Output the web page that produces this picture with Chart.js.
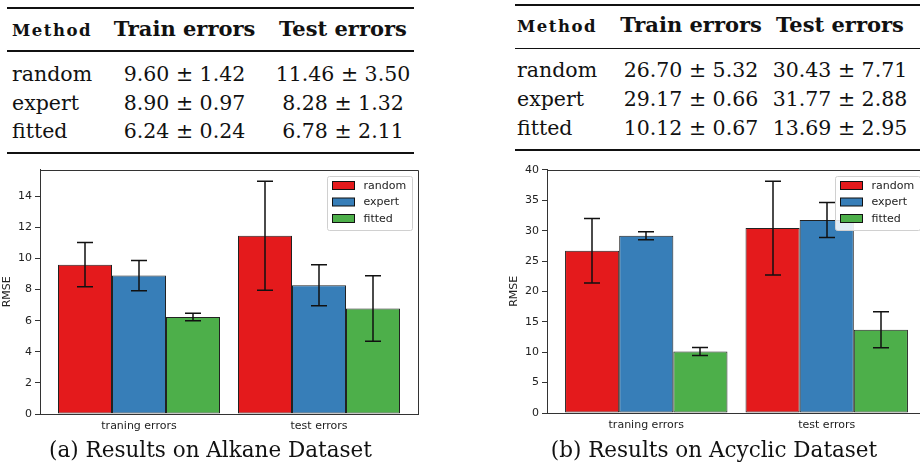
<!DOCTYPE html>
<html>
<head>
<meta charset="utf-8">
<script src="https://cdn.jsdelivr.net/npm/chart.js@4/dist/chart.umd.min.js"></script>
<style>
  html, body { margin: 0; padding: 0; background: #fff; }
  body { width: 920px; height: 462px; overflow: hidden; position: relative; font-family: "DejaVu Serif", serif; color: #111; }
  .rule { position: absolute; background: #111; }
  .cell { position: absolute; height: 30px; line-height: 30px; white-space: nowrap; }
  .c { transform: translateX(-50%); }
  .body { font-size: 20.5px; }
  .head { font-size: 21px; font-weight: bold; }
  .meth { font-size: 16.5px; font-weight: bold; letter-spacing: 1.5px; }
  .cap { position: absolute; height: 30px; line-height: 30px; font-size: 21.5px; white-space: nowrap; transform: translateX(-50%); }
  .box { position: absolute; }
</style>
</head>
<body>
<div class="box" style="left:0px;top:160px;width:460px;height:280px;"><canvas id="Chart1"></canvas></div>
<div class="box" style="left:490px;top:160px;width:460px;height:280px;"><canvas id="Chart2"></canvas></div>
<div class="cap" style="left:210.5px;top:434.5px;">(a) Results on Alkane Dataset</div>
<div class="cap" style="left:714px;top:434.5px;">(b) Results on Acyclic Dataset</div>

<script>
// data
var groupLabels = ['traning errors', 'test errors'];
var methods = ['random', 'expert', 'fitted'];
var colors = ['#e41a1c', '#377eb8', '#4daf4a'];

// alkane dataset, [train, test]
var alkaneRandom = [9.60, 11.46];
var alkaneRandomErr = [1.42, 3.50];
var alkaneExpert = [8.90, 8.28];
var alkaneExpertErr = [0.97, 1.32];
var alkaneFitted = [6.24, 6.78];
var alkaneFittedErr = [0.24, 2.11];

// acyclic dataset, [train, test]
var acyclicRandom = [26.70, 30.43];
var acyclicRandomErr = [5.32, 7.71];
var acyclicExpert = [29.17, 31.77];
var acyclicExpertErr = [0.66, 2.88];
var acyclicFitted = [10.12, 13.69];
var acyclicFittedErr = [0.67, 2.95];

var alkaneTicks = [0, 2, 4, 6, 8, 10, 12, 14];
var acyclicTicks = [0, 5, 10, 15, 20, 25, 30, 35, 40];


// tables
function rule(x0, x1, y, h) {
    var d = document.createElement('div');
    d.className = 'rule';
    d.style.left = x0 + 'px';
    d.style.width = (x1 - x0) + 'px';
    d.style.top = (y - h / 2) + 'px';
    d.style.height = h + 'px';
    document.body.appendChild(d);
}
function cell(text, cls, x, cy, centered) {
    var d = document.createElement('div');
    d.className = 'cell ' + cls + (centered ? ' c' : '');
    d.style.left = x + 'px';
    d.style.top = (cy - 15) + 'px';
    d.textContent = text;
    document.body.appendChild(d);
}
function pm(v, e) {
    return v.toFixed(2) + ' \u00b1 ' + e.toFixed(2);
}
function makeTable(t, vals, errs) {
    rule(t.x0, t.x1, t.top, 2);
    rule(t.x0, t.x1, t.mid, 1.2);
    rule(t.x0, t.x1, t.bottom, 2);
    cell('Method', 'meth', t.methodX, t.headBase - 0.346 * 16.5, false);
    cell('Train errors', 'head', t.trainC, t.headBase - 0.346 * 21, true);
    cell('Test errors', 'head', t.testC, t.headBase - 0.346 * 21, true);
    for (var i = 0; i < methods.length; i++) {
        var cy = t.rowBase[i] - 0.346 * 20.5;
        cell(methods[i], 'body', t.methodX, cy, false);
        cell(pm(vals[i][0], errs[i][0]), 'body', t.trainC, cy, true);
        cell(pm(vals[i][1], errs[i][1]), 'body', t.testC, cy, true);
    }
}

makeTable({x0: 7, x1: 414, top: 8, mid: 51, bottom: 153, headBase: 36.7, rowBase: [81, 110, 138],
           methodX: 12, trainC: 184.5, testC: 343},
          [alkaneRandom, alkaneExpert, alkaneFitted],
          [alkaneRandomErr, alkaneExpertErr, alkaneFittedErr]);
makeTable({x0: 515, x1: 930, top: 5, mid: 48.3, bottom: 150, headBase: 32.7, rowBase: [76.7, 106, 135],
           methodX: 517, trainC: 691, testC: 840},
          [acyclicRandom, acyclicExpert, acyclicFitted],
          [acyclicRandomErr, acyclicExpertErr, acyclicFittedErr]);


// plugins
var errorBars = {
    id: 'errorBars',
    afterDatasetsDraw: function(chart) {
        var ctx = chart.ctx;
        var yScale = chart.scales.y;
        ctx.save();
        ctx.strokeStyle = '#111';
        ctx.lineWidth = 1.5;
        chart.data.datasets.forEach(function(ds, i) {
            chart.getDatasetMeta(i).data.forEach(function(bar, j) {
                var v = ds.data[j].y, e = ds.errors[j];
                var y1 = yScale.getPixelForValue(v + e);
                var y2 = yScale.getPixelForValue(v - e);
                var x = Math.round(bar.x);
                ctx.beginPath();
                ctx.moveTo(x, y1); ctx.lineTo(x, y2);
                ctx.moveTo(x - 8, y1); ctx.lineTo(x + 8, y1);
                ctx.moveTo(x - 8, y2); ctx.lineTo(x + 8, y2);
                ctx.stroke();
            });
        });
        ctx.restore();
    }
};

var frameAndLegend = {
    id: 'frameAndLegend',
    afterDraw: function(chart) {
        var ctx = chart.ctx, a = chart.chartArea;
        ctx.save();
        // top and right spines
        ctx.strokeStyle = '#333';
        ctx.lineWidth = 1;
        ctx.beginPath();
        ctx.moveTo(Math.round(a.left) + 0.5, Math.round(a.top) + 0.5);
        ctx.lineTo(Math.round(a.right) + 0.5, Math.round(a.top) + 0.5);
        ctx.lineTo(Math.round(a.right) + 0.5, Math.round(a.bottom) + 0.5);
        ctx.stroke();

        // legend box in upper right
        var bw = 85, bh = 54;
        var bx = Math.round(a.right - 6 - bw) + 0.5, by = Math.round(a.top + 6) + 0.5;
        ctx.fillStyle = 'rgba(255,255,255,0.85)';
        ctx.strokeStyle = '#d0d0d0';
        ctx.beginPath();
        ctx.roundRect(bx, by, bw, bh, 2);
        ctx.fill();
        ctx.stroke();

        ctx.font = '11px "DejaVu Sans"';
        ctx.textBaseline = 'middle';
        chart.data.datasets.forEach(function(ds, i) {
            var cy = by + 9 + i * 16.5;
            ctx.fillStyle = ds.backgroundColor;
            ctx.strokeStyle = '#111';
            ctx.fillRect(bx + 5, cy - 4, 22, 8);
            ctx.strokeRect(bx + 5, cy - 4, 22, 8);
            ctx.fillStyle = '#222';
            ctx.fillText(ds.label, bx + 36, cy + 0.5);
        });
        ctx.restore();
    }
};


function makeChart(id, vals, errs, yMax, yTicks, opt) {
    var datasets = methods.map(function(m, i) {
        return {
            label: m,
            data: vals[i].map(function(v, j) { return {x: j, y: v}; }),
            errors: errs[i],
            backgroundColor: colors[i],
            borderColor: '#222',
            borderWidth: 1,
            borderSkipped: false,
            categoryPercentage: 0.9,
            barPercentage: 1.0
        };
    });

    return new Chart(document.getElementById(id).getContext('2d'), {
        type: 'bar',
        data: { datasets: datasets },
        plugins: [errorBars, frameAndLegend],
        options: {
            responsive: true,
            maintainAspectRatio: false,
            animation: false,
            events: [],
            layout: { padding: { left: 0, top: 8, right: opt.padRight, bottom: 0 } },
            plugins: {
                legend: { display: false },
                tooltip: { enabled: false }
            },
            scales: {
                x: {
                    type: 'linear',
                    min: -0.55,
                    max: 1.55,
                    offset: false,
                    afterBuildTicks: function(axis) {
                        axis.ticks = groupLabels.map(function(l, i) { return {value: i}; });
                    },
                    afterFit: function(axis) { axis.height = opt.xHeight; },
                    grid: { display: false, drawTicks: false },
                    border: { display: true, color: '#333', width: 1 },
                    ticks: {
                        padding: 6,
                        maxRotation: 0,
                        color: '#222',
                        font: { family: 'DejaVu Sans', size: 11 },
                        callback: function(v) { return groupLabels[v]; }
                    }
                },
                y: {
                    min: 0,
                    max: yMax,
                    afterBuildTicks: function(axis) {
                        axis.ticks = yTicks.map(function(v) { return {value: v}; });
                    },
                    afterFit: function(axis) { axis.width = opt.yWidth; },
                    grid: { drawOnChartArea: false, drawTicks: true, tickLength: 5, tickColor: '#333' },
                    border: { display: true, color: '#333', width: 1 },
                    ticks: {
                        padding: 3,
                        color: '#222',
                        font: { family: 'DejaVu Sans', size: 11 }
                    },
                    title: {
                        display: true,
                        text: 'RMSE',
                        color: '#222',
                        font: { family: 'DejaVu Sans', size: 11 },
                        padding: { top: opt.titlePad, bottom: 0 }
                    }
                }
            }
        }
    });
}

window.onload = function() {
    makeChart('Chart1',
        [alkaneRandom, alkaneExpert, alkaneFitted],
        [alkaneRandomErr, alkaneExpertErr, alkaneFittedErr],
        15.71, alkaneTicks,
        { padRight: 42, yWidth: 40, xHeight: 26, titlePad: 1 });

    makeChart('Chart2',
        [acyclicRandom, acyclicExpert, acyclicFitted],
        [acyclicRandomErr, acyclicExpertErr, acyclicFittedErr],
        40.05, acyclicTicks,
        { padRight: 24, yWidth: 57, xHeight: 27, titlePad: 18 });
};
</script>
</body>
</html>
